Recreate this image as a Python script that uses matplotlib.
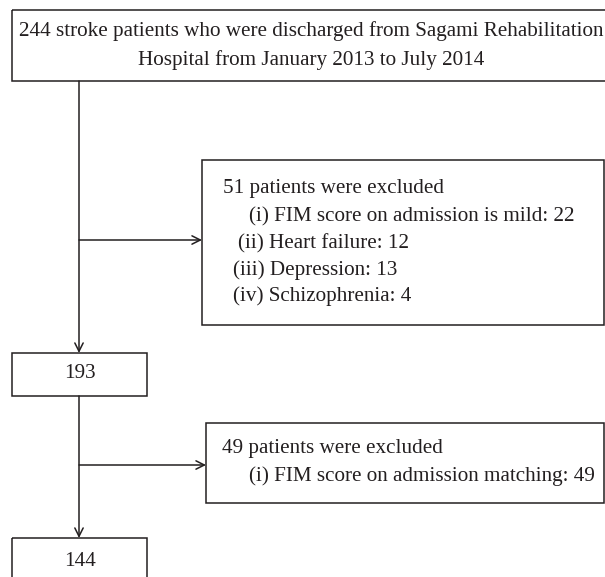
import matplotlib.pyplot as plt
from matplotlib.patches import Rectangle

# flowchart text
top_lines = ["244 stroke patients who were discharged from Sagami Rehabilitation",
             "Hospital from January 2013 to July 2014"]
excl1_title = "51 patients were excluded"
excl1_items = ["(i) FIM score on admission is mild: 22",
               "(ii) Heart failure: 12",
               "(iii) Depression: 13",
               "(iv) Schizophrenia: 4"]
excl2_title = "49 patients were excluded"
excl2_items = ["(i) FIM score on admission matching: 49"]
counts = [193, 144]

plt.rcParams['font.family'] = ['Liberation Serif', 'DejaVu Serif']
fs = 15.2
lc = '#231f20'

fig = plt.figure(figsize=(6.05, 5.77), dpi=100)
ax = fig.add_axes([0, 0, 1, 1])
ax.set_xlim(0, 605)
ax.set_ylim(577, 0)
ax.axis('off')

def box(x0, y0, x1, y1):
    ax.add_patch(Rectangle((x0, y0), x1 - x0, y1 - y0, fill=False, ec=lc, lw=1.1))

def arrow(x0, y0, x1, y1):
    ax.annotate('', xy=(x1, y1), xytext=(x0, y0),
                arrowprops=dict(arrowstyle='->', color=lc, lw=1.1,
                                mutation_scale=15, shrinkA=0, shrinkB=0))

# top box
box(12, 10, 610, 81)
ax.text(311, 31, top_lines[0], ha='center', va='center', fontsize=fs, color=lc)
ax.text(311, 60, top_lines[1], ha='center', va='center', fontsize=fs, color=lc)

# trunk lines
arrow(79, 81, 79, 353)
arrow(79, 240, 202, 240)
arrow(79, 396, 79, 538)
arrow(79, 465, 206, 465)

# exclusion box 1
box(202, 160, 604, 325)
ax.text(223, 188, excl1_title, ha='left', va='center', fontsize=fs, color=lc)
indents = [249, 238, 233, 233]
for i, (s, xi) in enumerate(zip(excl1_items, indents)):
    ax.text(xi, 217 + 26.5 * i, s, ha='left', va='center', fontsize=fs, color=lc)

# 193 box
box(12, 353, 147, 396)
ax.text(80, 374, str(counts[0]), ha='center', va='center', fontsize=fs, color=lc)

# exclusion box 2
box(206, 423, 604, 503)
ax.text(222, 448, excl2_title, ha='left', va='center', fontsize=fs, color=lc)
ax.text(249, 476, excl2_items[0], ha='left', va='center', fontsize=fs, color=lc)

# 144 box
box(12, 538, 147, 600)
ax.text(80, 562, str(counts[1]), ha='center', va='center', fontsize=fs, color=lc)

fig.savefig('out.png', dpi=100)
